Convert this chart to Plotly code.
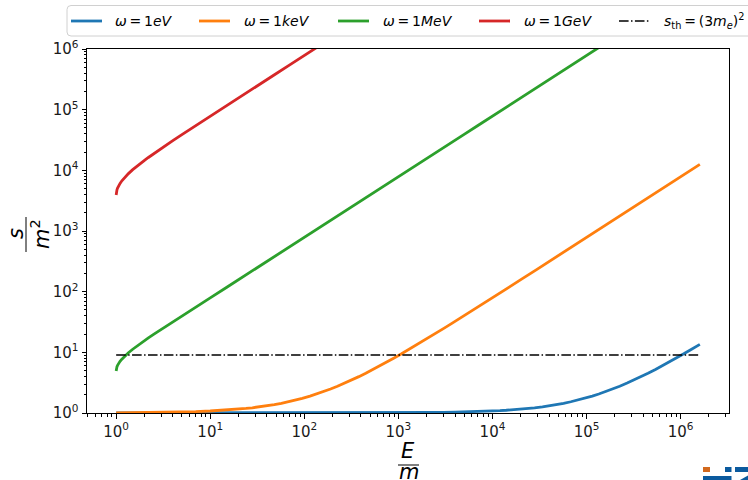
import plotly.graph_objects as go

# ---- data ----
E_red = [1, 1.001, 1.003, 1.006, 1.01, 1.02, 1.035, 1.05, 1.075, 1.1, 1.15, 1.2, 1.25, 1.35, 1.5, 1.6, 1.8, 2, 2.2, 2.5,
         3, 3.5, 4, 5, 6, 7, 8, 10, 15, 20, 30, 50, 70, 100, 150]
s_red = [3915, 4094, 4230, 4368, 4509, 4780, 5097, 5364, 5753, 6100, 6725, 7294, 7829, 8835, 10248, 11152, 12904, 14608,
         16282, 18754, 22814, 26828, 30816, 38746, 46641, 54516, 62379, 78085, 117292, 156463, 234776, 391362, 547934,
         782781, 1174189]

E_green = [1, 1.001, 1.003, 1.006, 1.01, 1.02, 1.035, 1.05, 1.075, 1.1, 1.15, 1.2, 1.25, 1.35, 1.5, 1.6, 1.8, 2, 2.2, 2.5,
           3, 3.5, 4, 5, 6, 7, 8, 10, 15, 20, 30, 50, 70, 100, 150, 200, 300, 500, 700, 1e3, 1.5e3, 2e3, 3e3, 5e3, 7e3,
           1e4, 2e4, 3e4, 5e4, 7e4, 1e5, 1.5e5]
s_green = [4.914, 5.093, 5.229, 5.367, 5.508, 5.779, 6.096, 6.363, 6.752, 7.099, 7.724, 8.293, 8.828, 9.834, 11.247,
           12.151, 13.903, 15.607, 17.281, 19.753, 23.81, 27.827, 31.815, 39.745, 47.64, 55.515, 63.378, 79.084, 118.29,
           157.46, 235.78, 392.36, 548.93, 783.78, 1175.2, 1566.6, 2349.4, 3915, 5480.6, 7829, 11743, 15657, 23485,
           39141, 54797, 78281, 156561, 234841, 391401, 547961, 782801, 1174201]

E_orange = [1, 1.5, 2, 3, 5, 7, 10, 12, 14, 17, 20, 24, 28, 34, 40, 48, 57, 68, 80, 95, 115, 135, 160, 190, 225, 270, 320,
            380, 450, 540, 640, 760, 900, 1080, 1280, 1500, 1800, 2200, 2600, 3100, 3700, 4400, 5200, 6200, 7500, 9000,
            1e4, 2e4, 3e4, 5e4, 7e4, 1e5, 2e5, 5e5, 1e6, 1.6e6]
s_orange = [1.00391, 1.01025, 1.01461, 1.02281, 1.03875, 1.05452, 1.07808, 1.0939, 1.1096, 1.1331, 1.1566, 1.1879,
            1.2192, 1.2662, 1.3131, 1.3757, 1.4462, 1.5323, 1.6262, 1.7437, 1.9002, 2.0568, 2.2525, 2.4873, 2.7613,
            3.1136, 3.505, 3.9746, 4.5226, 5.2271, 6.0099, 6.9493, 8.0452, 9.4542, 11.0198, 12.742, 15.09, 18.222,
            21.353, 25.267, 29.964, 35.443, 41.706, 49.534, 59.71, 71.452, 79.28, 157.56, 235.84, 392.4, 548.96, 783.8,
            1566.6, 3915, 7829, 12526]

E_blue = [1, 3, 10, 30, 100, 300, 1000, 1500, 2000, 3000, 4000, 5000, 6200, 7500, 9000, 1e4, 1.2e4, 1.4e4, 1.7e4, 2e4,
          2.4e4, 2.8e4, 3.4e4, 4e4, 4.8e4, 5.7e4, 6.8e4, 8e4, 9.5e4, 1.15e5, 1.35e5, 1.6e5, 1.9e5, 2.25e5, 2.7e5, 3.2e5,
          3.8e5, 4.5e5, 5.4e5, 6.4e5, 7.6e5, 9e5, 1.08e6, 1.28e6, 1.6e6]
s_blue = [1.0000039, 1.0000228, 1.000078, 1.000235, 1.000783, 1.002348, 1.007828, 1.01174, 1.01566, 1.02348, 1.03131,
          1.03914, 1.04853, 1.05871, 1.07045, 1.07828, 1.09394, 1.10959, 1.13308, 1.15656, 1.18787, 1.21918, 1.26615,
          1.31312, 1.37574, 1.4462, 1.5323, 1.6262, 1.7437, 1.9002, 2.0568, 2.2525, 2.4873, 2.7613, 3.1136, 3.505,
          3.9746, 4.5226, 5.2271, 6.0099, 6.9493, 8.0452, 9.4542, 11.0198, 13.525]

E_th = [1, 1.6e6]
s_th = [9, 9]

names = ["<i>ω</i>\u2009=\u20091<i>eV</i>", "<i>ω</i>\u2009=\u20091<i>keV</i>", "<i>ω</i>\u2009=\u20091<i>MeV</i>",
         "<i>ω</i>\u2009=\u20091<i>GeV</i>",
         "<i>s</i><sub>th</sub>\u2009=\u2009(3<i>m</i><sub><i>e</i></sub>)<sup>2</sup>"]
colors = ["#1f77b4", "#ff7f0e", "#2ca02c", "#d62728", "#000000"]

tick_vals = [1, 10, 100, 1000, 10000, 100000, 1000000]
tick_text = ["10<sup>0</sup>", "10<sup>1</sup>", "10<sup>2</sup>", "10<sup>3</sup>", "10<sup>4</sup>", "10<sup>5</sup>",
             "10<sup>6</sup>"]

# ---- figure ----
L, R, T, B = 87, 729, 49, 413
W, H = 748, 480


def px(x):
    return (x - L) / (R - L)


def py(y):
    return (B - y) / (B - T)


fig = go.Figure()
series = [(E_blue, s_blue), (E_orange, s_orange), (E_green, s_green), (E_red, s_red)]
line_styles = [dict(color=c, width=2.8) for c in colors[:4]] + \
              [dict(color=colors[4], width=1.5, dash="9.6px,2.4px,1.5px,2.4px")]
for (xs, ys), nm, ls in zip(series + [(E_th, s_th)], names, line_styles):
    fig.add_trace(go.Scatter(x=xs, y=ys, mode="lines", name=nm, line=ls, showlegend=False))

axis_common = dict(
    type="log", showgrid=False, zeroline=False, showline=True, linecolor="black", linewidth=1, mirror=True,
    ticks="outside", ticklen=4.5, tickwidth=1, tickcolor="black",
    tickvals=tick_vals, ticktext=tick_text,
    tickfont=dict(family="DejaVu Sans", size=15, color="#1a1a1a"),
    minor=dict(ticks="outside", ticklen=2.5, tickwidth=0.8, tickcolor="black", dtick="D1", showgrid=False),
)

fig.update_xaxes(range=[-0.31, 6.514], **axis_common)
fig.update_yaxes(range=[0, 6], **axis_common)

font_lab = dict(family="DejaVu Sans", size=21, color="black")
annotations = [
    dict(text="<i>E</i>", x=px(408), y=py(451), xref="paper", yref="paper", showarrow=False,
         xanchor="center", yanchor="middle", font=font_lab),
    dict(text="<i>m</i>", x=px(409), y=py(472), xref="paper", yref="paper", showarrow=False,
         xanchor="center", yanchor="middle", font=font_lab),
    dict(text="<i>s</i>", x=px(16), y=py(234), xref="paper", yref="paper", showarrow=False, textangle=-90,
         xanchor="center", yanchor="middle", font=font_lab),
    dict(text="<i>m</i><sup>2</sup>", x=px(40), y=py(234), xref="paper", yref="paper", showarrow=False, textangle=-90,
         xanchor="center", yanchor="middle", font=font_lab),
]

shapes = [
    dict(type="line", xref="paper", yref="paper", x0=px(398), x1=px(419), y0=py(465), y1=py(465),
         line=dict(color="black", width=1)),
    dict(type="line", xref="paper", yref="paper", x0=px(26), x1=px(26), y0=py(217), y1=py(252),
         line=dict(color="black", width=1)),
    # logo fragment bottom-right
    dict(type="rect", xref="paper", yref="paper", x0=px(703), x1=px(710), y0=py(472), y1=py(467),
         fillcolor="#d2691e", line=dict(width=0)),
    dict(type="rect", xref="paper", yref="paper", x0=px(725), x1=px(731.5), y0=py(472), y1=py(467),
         fillcolor="#0b5a9e", line=dict(width=0)),
    dict(type="rect", xref="paper", yref="paper", x0=px(735), x1=px(748), y0=py(472), y1=py(467),
         fillcolor="#0b5a9e", line=dict(width=0)),
    dict(type="rect", xref="paper", yref="paper", x0=px(703), x1=px(731.5), y0=py(480), y1=py(476),
         fillcolor="#0b5a9e", line=dict(width=0)),
    dict(type="path", xref="paper", yref="paper",
         path=f"M {px(740)},{py(480)} L {px(748)},{py(475.5)} L {px(748)},{py(480)} Z",
         fillcolor="#0b5a9e", line=dict(width=0)),
]

# ---- legend (drawn by hand so it can run off the right edge like the reference) ----
bx0, bx1, by0, by1, r = 67, 760, 5.5, 36, 4
shapes.append(dict(
    type="path", xref="paper", yref="paper",
    path=(f"M {px(bx0 + r)},{py(by0)} L {px(bx1)},{py(by0)} L {px(bx1)},{py(by1)} L {px(bx0 + r)},{py(by1)} "
          f"Q {px(bx0)},{py(by1)} {px(bx0)},{py(by1 - r)} L {px(bx0)},{py(by0 + r)} "
          f"Q {px(bx0)},{py(by0)} {px(bx0 + r)},{py(by0)} Z"),
    fillcolor="white", line=dict(color="#d0d0d0", width=1), layer="above"))
handle_x = [71, 199, 338, 479, 619]
text_x = [113, 242, 381, 522, 662]
for hx, tx, nm, ls in zip(handle_x, text_x, names, line_styles):
    shapes.append(dict(type="line", xref="paper", yref="paper", x0=px(hx), x1=px(hx + 31), y0=py(21), y1=py(21),
                       line=ls, layer="above"))
    annotations.append(dict(text=nm, x=px(tx), y=py(21), xref="paper", yref="paper", showarrow=False,
                            xanchor="left", yanchor="middle",
                            font=dict(family="DejaVu Sans", size=14, color="black")))

fig.update_layout(
    width=W, height=H,
    margin=dict(l=L, r=W - R, t=T, b=H - B, pad=0),
    paper_bgcolor="white", plot_bgcolor="white",
    font=dict(family="DejaVu Sans", size=15, color="black"),
    showlegend=False,
    annotations=annotations,
    shapes=shapes,
)

fig.write_html("out.html")
